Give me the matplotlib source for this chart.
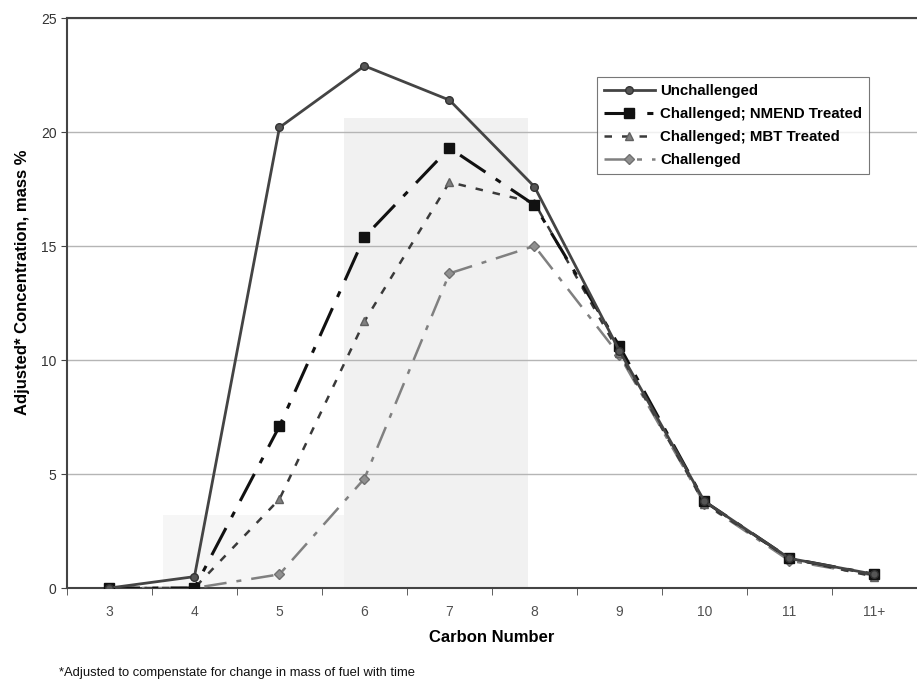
import numpy as np
import matplotlib
matplotlib.use("Agg")
import matplotlib.pyplot as plt

plt.rcParams['font.family'] = ['Liberation Sans', 'DejaVu Sans']

# carbon number categories
carbon = ['3', '4', '5', '6', '7', '8', '9', '10', '11', '11+']

unchallenged = [0.0, 0.5, 20.2, 22.9, 21.4, 17.6, 10.4, 3.8, 1.3, 0.6]
nmend = [0.0, 0.0, 7.1, 15.4, 19.3, 16.8, 10.6, 3.8, 1.3, 0.6]
mbt = [0.0, 0.0, 3.9, 11.7, 17.8, 16.9, 10.3, 3.7, 1.3, 0.5]
challenged = [0.0, 0.0, 0.6, 4.8, 13.8, 15.0, 10.2, 3.7, 1.2, 0.55]

x = np.arange(len(carbon))

fig = plt.figure(figsize=(9.17, 6.88), dpi=100)
ax = fig.add_axes([0.073, 0.1453, 0.927, 0.8285])

# faint shaded areas from the scan
ax.axvspan(2.76, 4.92, ymin=0, ymax=0.825, color='#f1f1f1', zorder=0, lw=0)
ax.axvspan(0.63, 2.76, ymin=0, ymax=0.128, color='#f6f6f6', zorder=0, lw=0)

ax.plot(x, challenged, color='#808080', ls=(0, (9, 4, 2, 4)), lw=1.8,
        marker='D', ms=5, mfc='#909090', mec='#707070', label='Challenged', zorder=3)
ax.plot(x, mbt, color='#3a3a3a', ls=(0, (3, 4)), lw=1.8,
        marker='^', ms=6, mfc='#808080', mec='#606060', label='Challenged; MBT Treated', zorder=4)
ax.plot(x, nmend, color='#111111', ls=(0, (10, 4, 2, 4)), lw=2.2,
        marker='s', ms=7, mfc='#111111', mec='#111111', label='Challenged; NMEND Treated', zorder=5)
ax.plot(x, unchallenged, color='#444444', ls='-', lw=2.0,
        marker='o', ms=5.5, mfc='#555555', mec='#333333', label='Unchallenged', zorder=6)

ax.set_xlim(-0.455, 9.455)
ax.set_ylim(0, 25)
ax.set_yticks([0, 5, 10, 15, 20, 25])
ax.set_xticks(x)
ax.set_xticklabels(carbon)
ax.set_xticks(np.arange(-0.5, 9.6, 1), minor=True)
ax.tick_params(axis='x', which='major', length=0, pad=12, labelsize=10, labelcolor='#505050')
ax.tick_params(axis='x', which='minor', length=5, direction='out', color='#444444')
ax.tick_params(axis='y', length=4, direction='out', labelsize=10, labelcolor='#333333', color='#444444')

ax.grid(axis='y', color='#b5b5b5', lw=1)
ax.set_axisbelow(True)
for s in ['left', 'bottom', 'top']:
    ax.spines[s].set_color('#444444')
    ax.spines[s].set_linewidth(1.5)
ax.spines['right'].set_visible(False)

ax.set_xlabel('Carbon Number', fontsize=12, fontweight='bold', labelpad=8)
ax.set_ylabel('Adjusted* Concentration, mass %', fontsize=12, fontweight='bold')
ax.yaxis.set_label_coords(-0.044, 0.537)

h, l = ax.get_legend_handles_labels()
leg = ax.legend(h[::-1], l[::-1], loc='upper left', bbox_to_anchor=(0.6235, 0.8965),
                prop={'weight': 'bold', 'size': 10.8}, frameon=True, fancybox=False,
                edgecolor='#555555', handlelength=3.4, handletextpad=0.35,
                borderpad=0.45, labelspacing=0.6, borderaxespad=0)
leg.get_frame().set_linewidth(0.8)

fig.text(0.064, 0.0218, '*Adjusted to compenstate for change in mass of fuel with time',
         fontsize=9.4, color='#111111', va='center')

fig.savefig('out.png', dpi=100)
